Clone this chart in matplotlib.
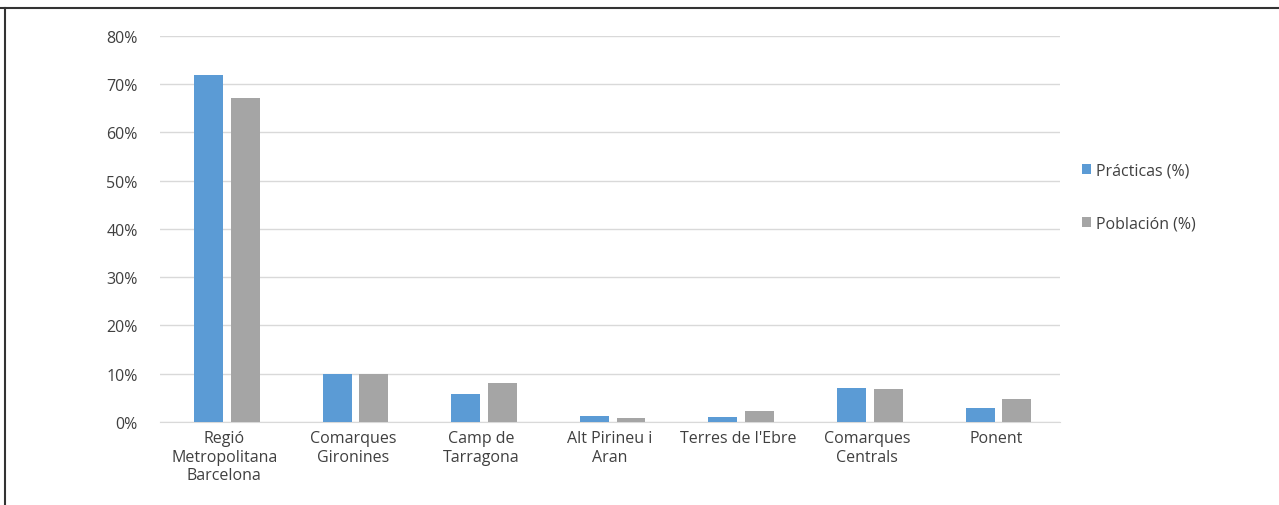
import numpy as np
import matplotlib
matplotlib.use("Agg")
import matplotlib.pyplot as plt
from matplotlib.lines import Line2D

regiones = ["Regió\nMetropolitana\nBarcelona", "Comarques\nGironines", "Camp de\nTarragona",
            "Alt Pirineu i\nAran", "Terres de l'Ebre", "Comarques\nCentrals", "Ponent"]
practicas = [0.719, 0.100, 0.058, 0.013, 0.011, 0.070, 0.029]
poblacion = [0.671, 0.100, 0.081, 0.008, 0.023, 0.068, 0.047]
yticks = [0, 0.1, 0.2, 0.3, 0.4, 0.5, 0.6, 0.7, 0.8]

plt.rcParams['font.family'] = ['Open Sans', 'DejaVu Sans']
texto = '#404040'
fs = 11.5

fig = plt.figure(figsize=(12.79, 5.06), dpi=100)
ax = fig.add_axes([0.125, 0.164, 0.704, 0.763])

x = np.arange(len(regiones))
w = 0.225
ax.bar(x - w/2 - 0.03 + 0.02, practicas, w, color='#5B9BD5', label='Prácticas (%)', zorder=3)
ax.bar(x + w/2 + 0.03 + 0.02, poblacion, w, color='#A5A5A5', label='Población (%)', zorder=3)

ax.set_xlim(-0.5, len(regiones) - 0.5)
ax.set_ylim(0, 0.8)
ax.set_yticks(yticks)
ax.set_yticklabels([f"{int(round(v*100))}%" for v in yticks], fontsize=fs, color=texto)
ax.set_xticks(x)
ax.set_xticklabels(regiones, fontsize=fs, color=texto, linespacing=1.2)
ax.yaxis.grid(True, color='#D9D9D9', linewidth=1, zorder=0)
for s in ['top', 'right', 'left']:
    ax.spines[s].set_visible(False)
ax.spines['bottom'].set_color('#D9D9D9')
ax.tick_params(axis='both', length=0, pad=6)
ax.tick_params(axis='y', pad=16)

ax.legend(loc='upper left', bbox_to_anchor=(1.008, 0.71), frameon=False, fontsize=fs,
          handlelength=0.6, handleheight=0.6, handletextpad=0.3, labelspacing=2.35,
          labelcolor=texto)

# marco de la imagen
fig.add_artist(Line2D([0, 1], [1 - 9/506, 1 - 9/506], color='#333333', linewidth=1.5))
fig.add_artist(Line2D([5/1279, 5/1279], [0, 1 - 9/506], color='#333333', linewidth=1.5))

fig.savefig('out.png', dpi=100)
